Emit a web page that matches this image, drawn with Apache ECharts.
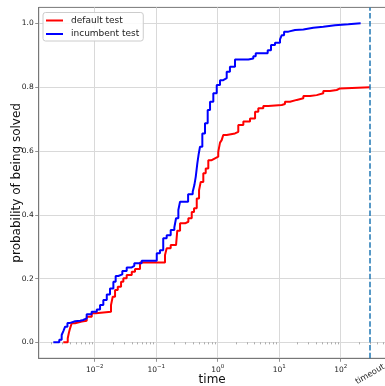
<!DOCTYPE html>
<html>
<head>
<meta charset="utf-8">
<script src="https://cdn.jsdelivr.net/npm/echarts@6/dist/echarts.min.js"></script>
<style>
  html, body { margin: 0; padding: 0; background: #ffffff; }
  #chart { width: 385px; height: 386px; }
</style>
</head>
<body>
<div id="chart"></div>
<script>
// Empirical run-time distributions: time at which each new level is reached
const defaultTimes = [0.00308, 0.00364, 0.0038, 0.00397, 0.00423, 0.00478, 0.00615, 0.00741, 0.00894, 0.0104,
  0.0184, 0.0196, 0.0214, 0.0237, 0.0268, 0.0292, 0.0331, 0.040, 0.0452, 0.0545,
  0.139, 0.148, 0.172, 0.210, 0.220, 0.244, 0.294, 0.333, 0.378, 0.412,
  0.456, 0.497, 0.529, 0.583, 0.638, 0.703, 0.798, 0.904, 1.02, 1.09,
  1.16, 1.23, 1.40, 1.91, 2.16, 2.61, 3.35, 4.05, 4.57, 5.51,
  6.65, 11.0, 12.4, 15.0, 19.3, 24.7, 31.7, 40.7, 52.1, 67.0,
  86.1, 97.5, 300];
const defaultProb = [0.0, 0.013, 0.03, 0.044, 0.060, 0.065, 0.068, 0.080, 0.091, 0.096,
  0.117, 0.143, 0.164, 0.174, 0.190, 0.201, 0.211, 0.221, 0.230, 0.250,
  0.274, 0.295, 0.305, 0.310, 0.350, 0.373, 0.378, 0.389, 0.409, 0.420,
  0.451, 0.477, 0.503, 0.530, 0.545, 0.571, 0.577, 0.582, 0.597, 0.626,
  0.634, 0.650, 0.655, 0.660, 0.681, 0.692, 0.702, 0.723, 0.734, 0.741,
  0.744, 0.747, 0.754, 0.760, 0.765, 0.772, 0.775, 0.781, 0.788, 0.791,
  0.796, 0.800, 0.800];

const incumbentTimes = [0.00212, 0.00265, 0.0029, 0.0031, 0.0033, 0.0036, 0.0040, 0.0048, 0.0058, 0.0065,
  0.0074, 0.0089, 0.0108, 0.0122, 0.0138, 0.0157, 0.0177, 0.0201, 0.0219, 0.0242,
  0.0281, 0.0331, 0.040, 0.044, 0.058, 0.102, 0.115, 0.130, 0.148, 0.172,
  0.197, 0.210, 0.229, 0.244, 0.33, 0.392, 0.417, 0.439, 0.466, 0.49,
  0.515, 0.562, 0.621, 0.687, 0.750, 0.848, 0.964, 1.09, 1.23, 1.40,
  1.58, 1.91, 3.15, 3.79, 4.15, 6.50, 7.36, 8.55, 10.3, 11.0,
  12.0, 14.1, 18.1, 24.7, 35.8, 52.1, 80.7, 133, 211];
const incumbentProb = [0.0, 0.008, 0.023, 0.036, 0.049, 0.061, 0.066, 0.068, 0.070, 0.075,
  0.088, 0.096, 0.103, 0.117, 0.133, 0.150, 0.169, 0.190, 0.208, 0.213,
  0.224, 0.235, 0.240, 0.248, 0.256, 0.279, 0.289, 0.326, 0.336, 0.352,
  0.360, 0.389, 0.415, 0.441, 0.464, 0.472, 0.493, 0.519, 0.561, 0.590,
  0.613, 0.655, 0.687, 0.728, 0.754, 0.781, 0.807, 0.822, 0.828, 0.848,
  0.864, 0.887, 0.890, 0.897, 0.906, 0.916, 0.932, 0.939, 0.950, 0.963,
  0.974, 0.979, 0.981, 0.986, 0.989, 0.994, 0.997, 1.0, 1.0];

const timeoutValue = 300;
const xMajorTicks = [0.01, 0.1, 1, 10, 100];
const yTicks = [0, 0.2, 0.4, 0.6, 0.8, 1.0];
const xMin = 0.001227;
const xMax = 537;

// minor log ticks at 2..9 x 10^k inside the axis range
const xMinorTicks = [];
for (let k = -3; k <= 2; k++) {
  for (let m = 2; m <= 9; m++) {
    const v = m * Math.pow(10, k);
    if (v > xMin && v < xMax) xMinorTicks.push(v);
  }
}

const pairs = (xs, ys) => xs.map((x, i) => [x, ys[i]]);
const spine = '#777777';
const tickText = '#222222';
const FONT = 'DejaVu Sans';

const chart = echarts.init(document.getElementById('chart'), null, { renderer: 'canvas' });

const supFormatter = (v) => {
  const e = Math.round(Math.log10(v));
  return '{b|10}{s|' + (e < 0 ? '\u2212' : '') + Math.abs(e) + '}';
};

chart.setOption({
  animation: false,
  backgroundColor: '#ffffff',
  textStyle: { fontFamily: FONT },
  grid: {
    left: 38.7, right: -0.6, top: 7.4, bottom: 27.7,
    containLabel: false, outerBoundsMode: 'none',
    show: true, borderColor: spine, borderWidth: 1, backgroundColor: 'transparent'
  },
  legend: {
    orient: 'vertical',
    left: 43, top: 12.5,
    padding: [3, 4, 2, 3],
    itemGap: 3.5,
    itemWidth: 17, itemHeight: 2,
    icon: 'rect',
    backgroundColor: 'rgba(255,255,255,0.85)',
    borderColor: '#cccccc', borderWidth: 1, borderRadius: 2.5,
    textStyle: { fontFamily: FONT, fontSize: 9, color: '#222222', padding: [0, 0, 0, 3], lineHeight: 10 },
    data: ['default test', 'incumbent test']
  },
  xAxis: [
    {
      type: 'log', logBase: 10, min: xMin, max: xMax,
      name: 'time', nameLocation: 'middle', nameGap: 16, nameMoveOverlap: false,
      nameTextStyle: { fontFamily: FONT, fontSize: 12, color: '#111111', verticalAlign: 'top' },
      axisLine: { show: true, onZero: false, lineStyle: { color: spine, width: 1 } },
      axisTick: { show: true, customValues: xMajorTicks, length: 3.5, lineStyle: { color: spine, width: 0.8 } },
      minorTick: { show: false },
      splitLine: { show: true, lineStyle: { color: '#d9d9d9', width: 1 } },
      axisLabel: {
        customValues: xMajorTicks, margin: 5, color: tickText, fontFamily: FONT,
        formatter: supFormatter,
        rich: {
          b: { fontSize: 7.5, fontFamily: FONT, color: tickText, lineHeight: 11, verticalAlign: 'bottom' },
          s: { fontSize: 5.5, fontFamily: FONT, color: tickText, lineHeight: 11, verticalAlign: 'top' }
        }
      }
    },
    {
      // minor ticks and the timeout label
      type: 'log', logBase: 10, min: xMin, max: xMax, position: 'bottom',
      axisLine: { show: false },
      axisTick: { show: true, customValues: xMinorTicks, length: 2, lineStyle: { color: spine, width: 0.6 } },
      splitLine: { show: false },
      axisLabel: {
        customValues: [timeoutValue], formatter: () => 'timeout',
        rotate: 30, margin: 16, align: 'center', verticalAlign: 'middle',
        fontFamily: FONT, fontSize: 8.3, color: tickText, hideOverlap: false
      }
    }
  ],
  yAxis: {
    type: 'value', min: -0.05, max: 1.05,
    name: 'probability of being solved', nameLocation: 'middle', nameGap: 16, nameMoveOverlap: false,
    nameTextStyle: { fontFamily: FONT, fontSize: 12, color: '#111111' },
    axisLine: { show: true, onZero: false, lineStyle: { color: spine, width: 1 } },
    axisTick: { show: true, customValues: yTicks, length: 3.5, lineStyle: { color: spine, width: 0.8 } },
    splitLine: { show: true, lineStyle: { color: '#d9d9d9', width: 1 } },
    axisLabel: {
      customValues: yTicks, margin: 5, color: tickText, fontFamily: FONT, fontSize: 7.5,
      formatter: (v) => v.toFixed(1)
    }
  },
  series: [
    {
      name: 'default test', type: 'line', step: 'end', xAxisIndex: 0,
      data: pairs(defaultTimes, defaultProb),
      showSymbol: false, symbol: 'none',
      lineStyle: { color: '#ff0000', width: 2 },
      itemStyle: { color: '#ff0000' },
      z: 3
    },
    {
      name: 'incumbent test', type: 'line', step: 'end', xAxisIndex: 0,
      data: pairs(incumbentTimes, incumbentProb),
      showSymbol: false, symbol: 'none',
      lineStyle: { color: '#0000ff', width: 2 },
      itemStyle: { color: '#0000ff' },
      z: 4,
      markLine: {
        silent: true, symbol: ['none', 'none'], label: { show: false },
        lineStyle: { color: '#1f77b4', width: 1.5, type: [5.5, 2.4] },
        data: [{ xAxis: timeoutValue }]
      }
    }
  ]
});
</script>
</body>
</html>
